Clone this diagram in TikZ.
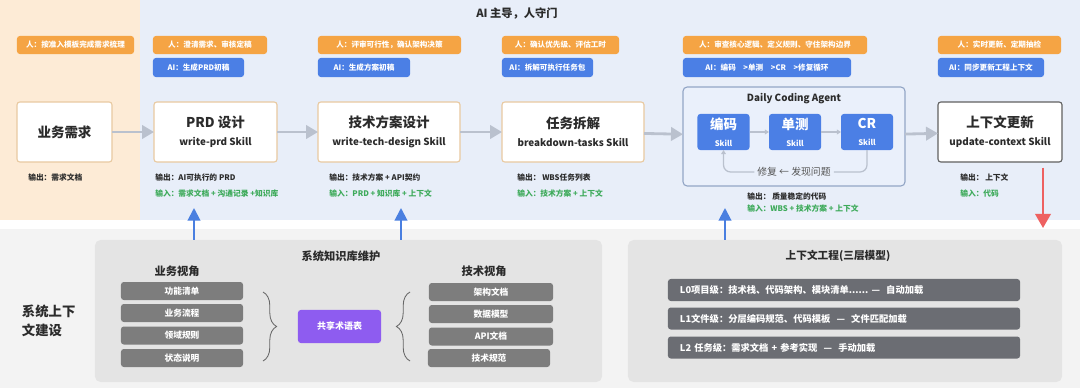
\documentclass[tikz,border=0pt]{standalone}
\usepackage{fontspec}
\setmainfont{Noto Sans CJK SC}
\usetikzlibrary{arrows.meta,positioning,decorations.pathreplacing}
\definecolor{BgOrange}{HTML}{FDEBD6}
\definecolor{BgBlue}{HTML}{E8EEF9}
\definecolor{BgGray}{HTML}{F3F3F3}
\definecolor{PanelGray}{HTML}{E4E4E4}
\definecolor{ItemGray}{HTML}{7D7D7D}
\definecolor{LayerGray}{HTML}{6B6D73}
\definecolor{TermPurple}{HTML}{8E5CF0}
\definecolor{HumanOrange}{HTML}{F5A444}
\definecolor{AIBlue}{HTML}{4B7FE5}
\definecolor{BoxLine}{HTML}{E8C9A0}
\definecolor{AgentLine}{HTML}{93A6C6}
\definecolor{AgentFill}{HTML}{EAF0FB}
\definecolor{FlowGray}{HTML}{BAC1CE}
\definecolor{UpBlue}{HTML}{4A7FE0}
\definecolor{DownRed}{HTML}{EE6161}
\definecolor{InGreen}{HTML}{3DAA5A}
\definecolor{DarkText}{HTML}{2B2B2B}
\newcommand\fBig{\fontsize{9.6}{11.5}\selectfont\bfseries}
\newcommand\fSkill{\fontsize{7}{8.5}\selectfont\bfseries}
\newcommand\fTiny{\fontsize{5.4}{6.5}\selectfont}
\tikzset{
  SB/.style={rectangle,rounded corners=2pt,draw=BoxLine,line width=0.8pt,fill=white,
             align=center,inner sep=0pt,outer sep=0pt,text=DarkText},
  LB/.style={rectangle,rounded corners=2pt,inner sep=0pt,outer sep=0pt,text=white,
             font=\fTiny\bfseries},
  hO/.style={LB,fill=HumanOrange,minimum height=0.45cm},
  aB/.style={LB,fill=AIBlue,minimum height=0.475cm},
  sk/.style={rectangle,rounded corners=2pt,fill=AIBlue,text=white,align=center,
             minimum width=1.3cm,minimum height=0.9cm,inner sep=0pt,outer sep=0pt},
  outT/.style={anchor=west,font=\fontsize{5.5}{6.5}\selectfont\bfseries,text=DarkText,inner sep=0pt},
  inT/.style={outT,text=InGreen},
  hd/.style={font=\fontsize{8}{9}\selectfont\bfseries,text=DarkText},
  itm/.style={rectangle,rounded corners=2pt,fill=ItemGray,text=white,minimum height=0.45cm,
              inner sep=0pt,font=\fontsize{6.2}{7}\selectfont\bfseries},
  lyr/.style={rectangle,rounded corners=2pt,fill=LayerGray,text=white,minimum width=8.8cm,
              minimum height=0.55cm,text width=8.2cm,align=left,inner sep=0pt,
              font=\fontsize{6.6}{7.5}\selectfont\bfseries},
  pnl/.style={rectangle,rounded corners=4pt,fill=PanelGray,minimum height=3.55cm,inner sep=0pt},
  flow/.style={-{Triangle[length=8.5pt,width=9.5pt]},line width=2pt,draw=FlowGray},
  sflow/.style={-{Triangle[length=3pt,width=3.5pt]},line width=1pt,draw=FlowGray},
  upA/.style={-{Triangle[length=9pt,width=9pt]},line width=1.4pt,draw=UpBlue},
  dnA/.style={-{Triangle[length=10pt,width=11pt]},line width=1.6pt,draw=DownRed},
  brc/.style={decorate,decoration={brace,amplitude=0.34cm},draw=gray!80!black,line width=0.6pt}
}
\begin{document}
\begin{tikzpicture}[x=0.025cm,y=-0.025cm]
  \useasboundingbox (0,0) rectangle (1080,388);
  % backgrounds
  \fill[BgOrange] (0,0) rectangle (140,220);
  \fill[BgBlue] (140,0) rectangle (1080,220);
  \fill[BgGray] (0,229) rectangle (1080,388);

  \node[hd] (lead) at (517,14) {AI 主导，人守门};

  % human / AI labels
  \node[hO,minimum width=2.925cm] (h0) at (75.5,45) {人：按准入模板完成需求梳理};
  \node[hO,minimum width=2.85cm] (h1) at (210,45) {人：澄清需求、审核定稿};
  \node[aB,minimum width=2.275cm] (a1) at (198.5,67.5) {AI：生成PRD初稿};
  \node[hO,minimum width=3.575cm] (h2) at (389.5,45) {人：评审可行性，确认架构决策};
  \node[aB,minimum width=2.3cm] (a2) at (364,67.5) {AI：生成方案初稿};
  \node[hO,minimum width=2.925cm] (h3) at (560.5,45) {人：确认优先级、评估工时};
  \node[aB,minimum width=2.275cm] (a3) at (547.5,67.5) {AI：拆解可执行任务包};
  \node[hO,minimum width=4.6cm] (h4) at (775,45) {人：审查核心逻辑、定义规则、守住架构边界};
  \node[aB,minimum width=4.2cm] (a4) at (767,67.5) {AI：编码\quad>单测\quad>CR\quad>修复循环};
  \node[hO,minimum width=3.075cm] (h5) at (999.5,45) {人：实时更新、定期抽检};
  \node[aB,minimum width=2.65cm] (a5) at (991,67.5) {AI：同步更新工程上下文};

  % stage boxes
  \node[SB,minimum width=2.375cm,minimum height=1.5cm] (req) at (64.5,132) {\fBig 业务需求};
  \node[SB,minimum width=3.075cm,minimum height=1.5cm] (prd) at (215.5,132)
    {{\fBig PRD 设计}\\[1pt]{\fSkill write-prd Skill}};
  \node[SB,minimum width=3.55cm,minimum height=1.5cm] (tech) at (389,132)
    {{\fBig 技术方案设计}\\[1pt]{\fSkill write-tech-design Skill}};
  \node[SB,minimum width=3.55cm,minimum height=1.5cm] (task) at (573,132)
    {{\fBig 任务拆解}\\[1pt]{\fSkill breakdown-tasks Skill}};
  \node[rectangle,rounded corners=3pt,draw=AgentLine,fill=AgentFill,line width=0.8pt,
        minimum width=5.55cm,minimum height=2.475cm,outer sep=0pt] (agent) at (794,136.5) {};
  \node[font=\fontsize{7}{8}\selectfont\bfseries,text=DarkText] (agentT) at (794,99) {Daily Coding Agent};
  \node[sk] (cod) at (723.5,132) {{\fBig 编码}\\{\fontsize{5.5}{6}\selectfont\bfseries Skill}};
  \node[sk] (ut) at (795,132) {{\fBig 单测}\\{\fontsize{5.5}{6}\selectfont\bfseries Skill}};
  \node[sk] (cr) at (867,132) {{\fBig CR}\\{\fontsize{5.5}{6}\selectfont\bfseries Skill}};
  \node[font=\fontsize{7}{8}\selectfont,text=DarkText!80,fill=AgentFill,inner sep=2pt] (fix) at (794,172) {修复 ← 发现问题};
  \node[SB,draw=DarkText!75,minimum width=3.1cm,minimum height=1.5cm] (upd) at (1000,132)
    {{\fBig 上下文更新}\\[1pt]{\fSkill update-context Skill}};

  \draw[flow] (req) -- (prd);
  \draw[flow] (prd) -- (tech);
  \draw[flow] (tech) -- (task);
  \draw[flow] (task) -- (agent);
  \draw[flow] (agent) -- (upd);
  \draw[sflow] (cod) -- (ut);
  \draw[sflow] (ut) -- (cr);
  \draw[FlowGray,line width=0.9pt,rounded corners=5pt] (cr.south) |- (fix.east);
  \draw[FlowGray,line width=0.9pt,rounded corners=5pt,-{Triangle[length=3pt,width=3.5pt]}] (fix.west) -| (cod.south);

  % outputs and inputs
  \node[outT] (o0) at (28,178) {输出：需求文档};
  \node[outT] (o1) at (155,178) {输出：AI可执行的 PRD};
  \node[inT] (i1) at (155,194) {输入：需求文档 + 沟通记录 +知识库};
  \node[outT] (o2) at (329,178) {输出：技术方案 + API契约};
  \node[inT] (i2) at (329,194) {输入：PRD + 知识库 + 上下文};
  \node[outT] (o3) at (517,178) {输出： WBS任务列表};
  \node[inT] (i3) at (517,194) {输入：技术方案 + 上下文};
  \node[outT] (o4) at (747,197) {输出： 质量稳定的代码};
  \node[inT] (i4) at (747,209) {输入：WBS + 技术方案 + 上下文};
  \node[outT] (o5) at (960,178) {输出： 上下文};
  \node[inT] (i5) at (960,194) {输入：代码};

  % bottom band
  \node[anchor=west,align=left,font=\fontsize{9.5}{13.5}\selectfont\bfseries,text=DarkText] (sys) at (17,321)
    {系统上下\\文建设};
  \node[pnl,minimum width=12.675cm] (kb) at (348.5,311) {};
  \node[hd] (kbT) at (341,256) {系统知识库维护};
  \node[hd] (bizT) at (177,271) {业务视角};
  \node[hd] (techT) at (484,271) {技术视角};
  \node[itm,minimum width=3.05cm] (b1) at (182,291) {功能清单};
  \node[itm,minimum width=3.05cm] (b2) at (182,313) {业务流程};
  \node[itm,minimum width=3.05cm] (b3) at (182,335.5) {领域规则};
  \node[itm,minimum width=3.05cm] (b4) at (182,358) {状态说明};
  \node[itm,minimum width=3.1cm] (t1) at (491,292) {架构文档};
  \node[itm,minimum width=3.1cm] (t2) at (491,314) {数据模型};
  \node[itm,minimum width=3.1cm] (t3) at (491,336.5) {API文档};
  \node[itm,minimum width=3.05cm] (t4) at (489,358) {技术规范};
  \node[rectangle,rounded corners=2pt,fill=TermPurple,text=white,minimum width=2.075cm,
        minimum height=0.825cm,font=\fontsize{6.4}{7}\selectfont\bfseries] (gls) at (339.5,326.5) {共享术语表};
  \draw[brc] (263,292) -- (263,361);
  \draw[brc] (410,361) -- (410,292);

  \node[pnl,minimum width=10.85cm] (ctx) at (845,311) {};
  \node[hd,font=\fontsize{7.6}{9}\selectfont\bfseries] (ctxT) at (838,256) {上下文工程(三层模型)};
  \node[lyr] (L0) at (844,290) {L0项目级：技术栈、代码架构、模块清单......\ —\ \ 自动加载};
  \node[lyr] (L1) at (844,318.5) {L1文件级：分层编码规范、代码模板\ \ —\ \ 文件匹配加载};
  \node[lyr] (L2) at (844,347.5) {L2 任务级：需求文档 + 参考实现\ \ —\ \ 手动加载};

  % feeds
  \coordinate (prdIn) at (194,208);
  \coordinate (techIn) at (401,208);
  \coordinate (agentIn) at (725,208);
  \coordinate (ctxOut) at (1043,228);
  \draw[upA] (kb.north -| prdIn) -- (prdIn);
  \draw[upA] (kb.north -| techIn) -- (techIn);
  \draw[upA] (ctx.north -| agentIn) -- (agentIn);
  \draw[dnA] ([yshift=-4pt]upd.south -| ctxOut) -- (ctxOut);
\end{tikzpicture}
\end{document}
